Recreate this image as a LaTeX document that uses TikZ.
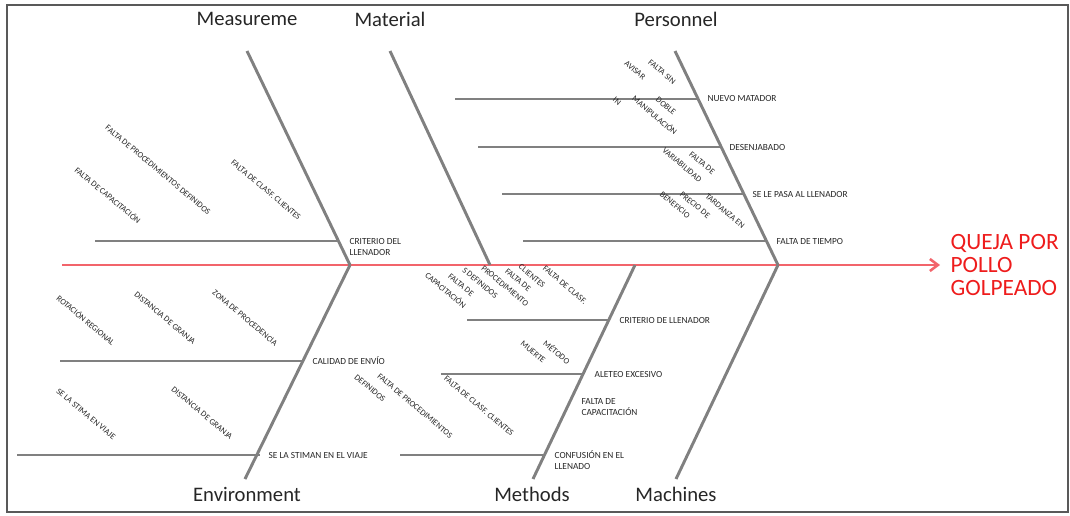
\documentclass[tikz,border=0pt]{standalone}
\usepackage{fontspec}
\setmainfont{Carlito}
\usepackage{tikz}
\usetikzlibrary{arrows.meta,calc}
\definecolor{Bone}{HTML}{808080}
\definecolor{Spine}{HTML}{F2646B}
\definecolor{Problem}{HTML}{EE1C1C}
\definecolor{Ink}{HTML}{262626}
\definecolor{Frame}{HTML}{595959}

\begin{document}
\begin{tikzpicture}[x=0.75pt,y=-0.75pt,
  every node/.style={inner sep=1pt},
  cat/.style={font=\fontsize{15.5}{18}\selectfont,text=Ink},
  cause/.style={font=\fontsize{7}{8.2}\selectfont,text=Ink,anchor=west,align=left},
  sub/.style={font=\fontsize{6.3}{7}\selectfont,text=Ink,rotate=-40},
  bone/.style={draw=Bone,line width=2.2pt},
  twig/.style={draw=Bone,line width=2pt},
  spine/.style={-{Straight Barb[length=6pt,width=9pt]},draw=Spine,line width=1.9pt}
]
\useasboundingbox (0,0) rectangle (1070,515);
\draw[Frame,line width=0.9pt] (7,5) rectangle (1068,512);

% problem and spine
\node[font=\fontsize{17.5}{17.3}\selectfont,text=Problem,align=left,anchor=west] (prob) at (949,265) {QUEJA POR\\POLLO\\GOLPEADO};
\coordinate (tail) at (62,265);
\draw[spine,shorten >=6.75pt] (tail) -- (prob.west);

% joints on the spine
\coordinate (jMe) at (350,265);
\coordinate (jMa) at (490,265);
\coordinate (jMt) at (635,265);
\coordinate (jPe) at (778,265);

% categories
\node[cat] (meas) at (247,19) {Measureme};
\node[cat] (mate) at (390,19) {Material};
\node[cat] (pers) at (676,19) {Personnel};
\node[cat] (envi) at (247,494) {Environment};
\node[cat] (meth) at (532,494) {Methods};
\node[cat] (mach) at (676,494) {Machines};

\coordinate (tMe) at (247,51);
\coordinate (tMa) at (390,51);
\coordinate (tPe) at (675,51);
\coordinate (bEn) at (245,479);
\coordinate (bMt) at (533,479);
\coordinate (bMc) at (676,479);

\draw[bone] (tMe) -- (jMe);
\draw[bone] (tMa) -- (jMa);
\draw[bone] (tPe) -- (jPe);
\draw[bone] (jMe) -- (bEn);
\draw[bone] (jMt) -- (bMt);
\draw[bone] (jPe) -- (bMc);

% Measurement
\draw[twig] (95,241) -- (339,241);
\node[cause] (critdel) at (348,247) {CRITERIO DEL\\LLENADOR};
\node[sub] (m1) at (158,170) {FALTA DE PROCEDIMIENTOS DEFINIDOS};
\node[sub] (m2) at (108,195) {FALTA DE CAPACITACIÓN};
\node[sub] (m3) at (266,190) {FALTA DE CLASF. CLIENTES};

% Environment
\draw[twig] (60,361) -- (304,361);
\node[cause] (calidad) at (311,361) {CALIDAD DE ENVÍO};
\draw[twig] (17,455) -- (260,455);
\node[cause] (estiman) at (267,455) {SE LA STIMAN EN EL VIAJE};
\node[sub] (e1) at (86,320) {ROTACIÓN REGIONAL};
\node[sub] (e2) at (165,318) {DISTANCIA DE GRANJA};
\node[sub] (e3) at (245,318) {ZONA DE PROCEDENCIA};
\node[sub] (e4) at (86,414) {SE LA STIMA EN VIAJE};
\node[sub] (e5) at (202,413) {DISTANCIA DE GRANJA};
\node[sub] (e6) at (415,406) {FALTA DE PROCEDIMIENTOS};
\node[sub] (e7) at (370,388) {DEFINIDOS};

% Material
\node[sub] (a1) at (565,285) {FALTA DE CLASF.};
\node[sub] (a2) at (532,276) {CLIENTES};
\node[sub] (a3) at (518,280) {FALTA DE};
\node[sub] (a4) at (505,286) {PROCEDIMIENTO};
\node[sub] (a5) at (480,283) {S DEFINIDOS};
\node[sub] (a6) at (461,285) {FALTA DE};
\node[sub] (a7) at (446,290) {CAPACITACIÓN};

% Methods
\draw[twig] (467,320) -- (609,320);
\node[cause] (critll) at (618,320) {CRITERIO DE LLENADOR};
\draw[twig] (441,374) -- (583,374);
\node[cause] (aleteo) at (593,374) {ALETEO EXCESIVO};
\node[cause] (faltcap) at (580,407) {FALTA DE\\CAPACITACIÓN};
\draw[twig] (400,455) -- (545,455);
\node[cause] (confus) at (553,460) {CONFUSIÓN EN EL\\LLENADO};
\node[sub] (t1) at (479,406) {FALTA DE CLASF. CLIENTES};
\node[sub] (t2) at (557,352) {MÉTODO};
\node[sub] (t3) at (533,352) {MUERTE};

% Personnel
\draw[twig] (455,99) -- (698,99);
\node[cause] (nuevo) at (706,99) {NUEVO MATADOR};
\draw[twig] (478,147) -- (721,147);
\node[cause] (desen) at (728,147) {DESENJABADO};
\draw[twig] (502,194) -- (743,194);
\node[cause] (pasa) at (751,194) {SE LE PASA AL LLENADOR};
\draw[twig] (523,241) -- (766,241);
\node[cause] (tiempo) at (775,241) {FALTA DE TIEMPO};
\node[sub] (p1) at (662,72) {FALTA SIN};
\node[sub] (p2) at (635,70) {AVISAR};
\node[sub] (p3) at (617,101) {IN};
\node[sub] (p4) at (666,106) {DOBLE};
\node[sub] (p5) at (655,115) {MANIPULACIÓN};
\node[sub] (p6) at (702,163) {FALTA DE};
\node[sub] (p7) at (682,165) {VARIABILIDAD};
\node[sub] (p8) at (725,211) {TARDANZA EN};
\node[sub] (p9) at (695,205) {PRECIO DE};
\node[sub] (p10) at (675,205) {BENEFICIO};
\end{tikzpicture}
\end{document}
